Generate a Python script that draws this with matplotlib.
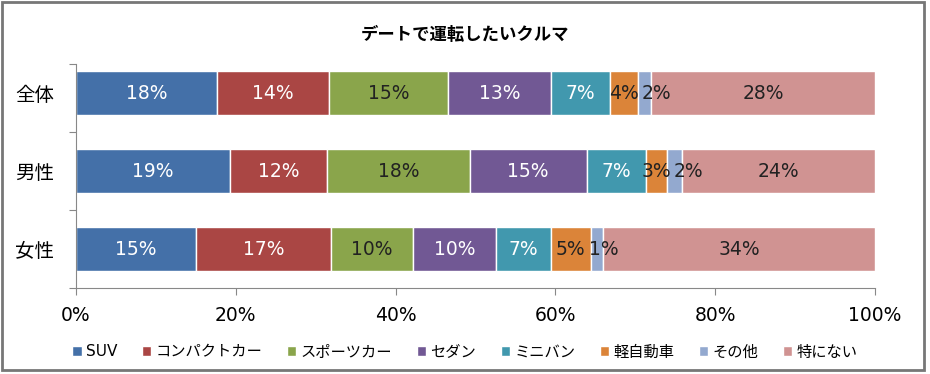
import numpy as np
import matplotlib.pyplot as plt
from matplotlib.patches import Rectangle

plt.rcParams['font.family'] = ['DejaVu Sans', 'Noto Sans CJK JP']

# data (share, %)
groups = ['全体', '男性', '女性']
types = ['SUV', 'コンパクトカー', 'スポーツカー', 'セダン', 'ミニバン', '軽自動車', 'その他', '特にない']
suv = [17.6, 19.3, 15.0]
compact = [14.1, 12.1, 16.9]
sports = [14.8, 17.9, 10.3]
sedan = [13.0, 14.6, 10.4]
minivan = [7.3, 7.5, 6.8]
kei = [3.5, 2.6, 5.0]
other = [1.7, 1.8, 1.6]
none_ = [28.0, 24.2, 34.0]
labels = [['18%', '19%', '15%'], ['14%', '12%', '17%'], ['15%', '18%', '10%'],
          ['13%', '15%', '10%'], ['7%', '7%', '7%'], ['4%', '3%', '5%'],
          ['2%', '2%', '1%'], ['28%', '24%', '34%']]

series = [suv, compact, sports, sedan, minivan, kei, other, none_]
colors = ['#4470a8', '#aa4644', '#8aa54b', '#715894', '#4198ae', '#db8439', '#93a9cf', '#d09392']
txtcol = ['white', 'white', '#222222', 'white', 'white', '#222222', '#222222', '#222222']

fig = plt.figure(figsize=(9.3, 3.74), dpi=100)
ax = fig.add_axes([76/930, 1-288/374, 799/930, 224/374])

y = np.arange(len(groups))
left = np.zeros(len(groups))
for i in range(len(series)):
    vals = np.array(series[i])
    ax.barh(y, vals, left=left, height=0.565, color=colors[i],
            edgecolor='white', linewidth=1, label=types[i])
    for j in range(len(groups)):
        xx = left[j] + vals[j]/2
        # the tiny "other" labels get pushed right so they don't collide
        if i == 6:
            xx = xx + [1.5, 1.75, 0.9][j]
        ax.text(xx, y[j], labels[i][j], ha='center', va='center',
                fontsize=13.5, color=txtcol[i])
    left = left + vals

ax.set_xlim(0, 100)
ax.set_ylim(2.5, -0.372)
ax.set_xticks([0, 20, 40, 60, 80, 100])
ax.set_xticklabels(['0%', '20%', '40%', '60%', '80%', '100%'], fontsize=13.5)
ax.set_yticks([-0.372, 0.5, 1.5, 2.5])
ax.set_yticklabels([])
ax.set_yticks(y, minor=True)
ax.set_yticklabels(groups, minor=True, fontsize=14)
ax.tick_params(axis='y', which='minor', length=0, pad=16)
ax.tick_params(axis='y', which='major', length=5, color='#888888')
ax.tick_params(axis='x', length=5, color='#888888', pad=8)
for s in ['top', 'right']:
    ax.spines[s].set_visible(False)
ax.spines['left'].set_color('#888888')
ax.spines['bottom'].set_color('#888888')

fig.text(0.5, 1-35/374, 'デートで運転したいクルマ', ha='center', va='center',
         fontsize=12.5, fontweight='bold')

fig.legend(loc='center', bbox_to_anchor=(0.5, 1-352/374), ncol=8, frameon=False,
           fontsize=11, handlelength=0.6, handleheight=0.6, handletextpad=0.3,
           columnspacing=1.6)

fig.patches.append(Rectangle((2/930, 4/374), 922/930, 368/374, transform=fig.transFigure,
                             fill=False, edgecolor='#777777', linewidth=2))

fig.savefig('out.png', dpi=100)
